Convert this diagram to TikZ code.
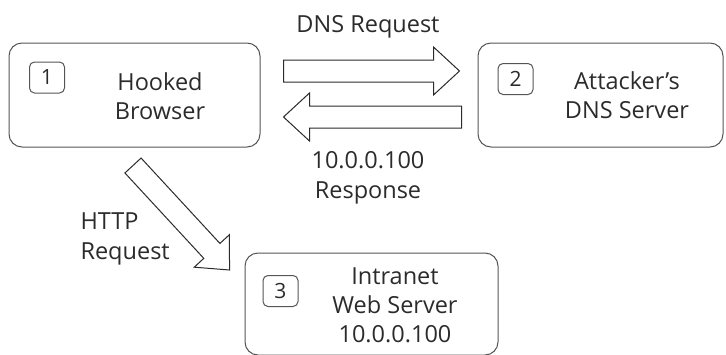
\documentclass[tikz,border=0pt]{standalone}
\usepackage{fontspec}
\setmainfont{Open Sans}
\usepackage{xcolor}
\usetikzlibrary{calc,positioning}
\definecolor{inkgray}{HTML}{2B2B2B}
\definecolor{linegray}{HTML}{555555}
\tikzset{%
	hostbox/.style  = {draw=linegray, line width=1pt, rectangle, rounded corners=13pt}, % Host
	numbox/.style   = {draw=linegray, line width=1pt, rectangle, rounded corners=5pt, minimum width=35pt, minimum height=31pt, inner sep=0pt, text=inkgray, font=\fontsize{21}{24}\selectfont}, % Step number
	hosttext/.style = {align=center, text=inkgray, font=\fontsize{23.5}{29}\selectfont},
	msgtext/.style  = {text=inkgray, font=\fontsize{23.5}{30}\selectfont},
	fatline/.style  = {draw=inkgray, line width=1pt, line join=miter, fill=white},
}
% hollow block arrow from #1 to #2
\newcommand{\fatarrow}[2]{%
	\coordinate (hb) at ($(#2)!26pt!(#1)$);
	\draw[fatline] ($(#1)!11pt!90:(#2)$) -- ($(hb)!11pt!90:(#2)$) -- ($(hb)!24pt!90:(#2)$) -- (#2)
		-- ($(hb)!24pt!-90:(#2)$) -- ($(hb)!11pt!-90:(#2)$) -- ($(#1)!11pt!-90:(#2)$) -- cycle;
}

\begin{document}
\begin{tikzpicture}[x=1pt,y=-1pt]
	\useasboundingbox (0,0) rectangle (726,354);
	\node [hostbox, minimum width=251pt, minimum height=104pt] (browser) at (134.5,95) {};
	\node [hostbox, minimum width=245pt, minimum height=104pt] (dns) at (600.5,95) {};
	\node [hostbox, minimum width=253pt, minimum height=102pt] (web) at (371.5,304) {};
	
	\node [numbox] (n1) at ([shift={(38.5,-17.5)}]browser.west) {1};
	\node [numbox] (n2) at ([shift={(38,-16)}]dns.west) {2};
	\node [numbox] (n3) at ([shift={(36,-13)}]web.west) {3};
	
	\node [hosttext] (tbrowser) at (160,96) {Hooked\\Browser};
	\node [hosttext] (tdns) at (627,95) {Attacker's\\DNS Server};
	\node [hosttext] (tweb) at (395,305) {Intranet\\Web Server\\10.0.0.100};
	
	\node [msgtext] (dnsreq) at (368,27) {DNS Request};
	\node [msgtext, align=center] (dnsresp) at (368,178) {10.0.0.100\\Response};
	\node [msgtext, align=left, anchor=west] (httpreq) at (77,239) {HTTP\\Request};
	
	\coordinate (reqa) at ([shift={(23,-24)}]browser.east);
	\coordinate (reqb) at ([shift={(-18,-24)}]dns.west);
	\coordinate (respa) at ([shift={(-16,22)}]dns.west);
	\coordinate (respb) at ([shift={(23,22)}]browser.east);
	\coordinate (httpa) at ([shift={(-1.5,18)}]browser.south);
	\coordinate (httpb) at ([shift={(-15,-34)}]web.west);
	
	\fatarrow{reqa}{reqb}
	\fatarrow{respa}{respb}
	\fatarrow{httpa}{httpb}
\end{tikzpicture}
\end{document}
